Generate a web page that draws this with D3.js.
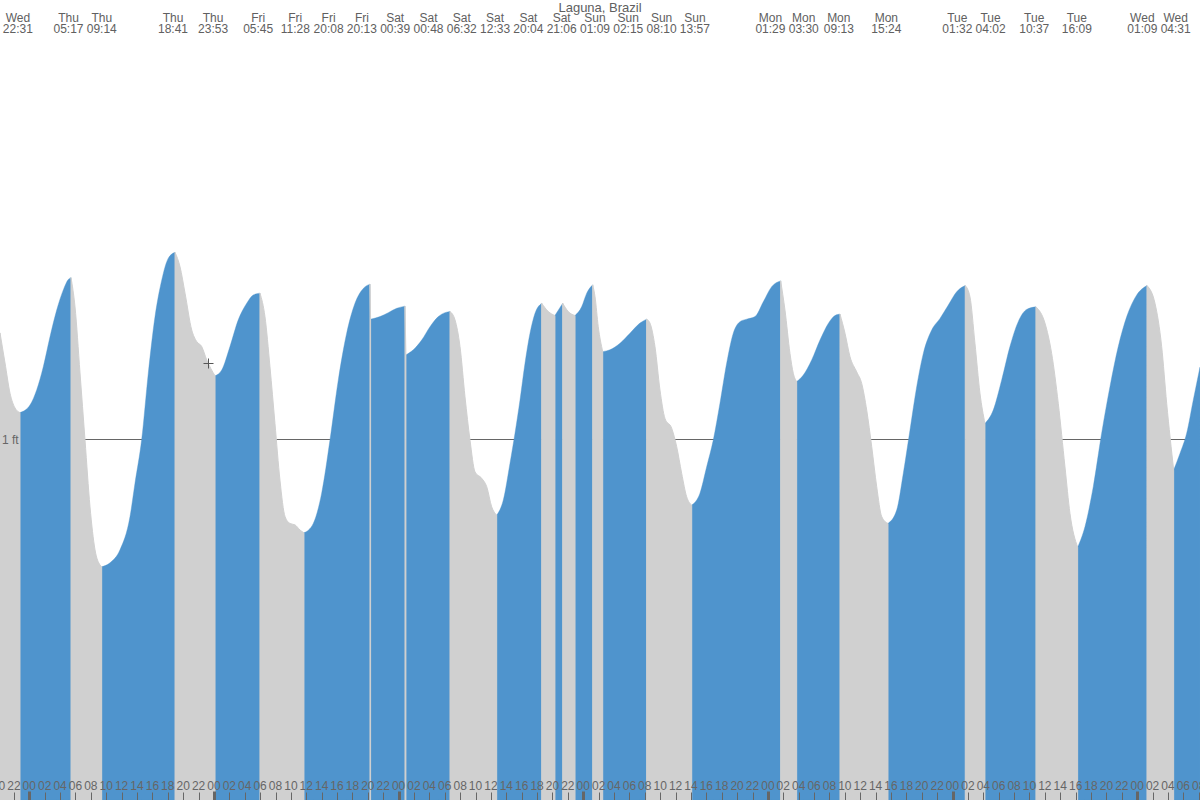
<!DOCTYPE html>
<html><head><meta charset="utf-8">
<script src="https://cdn.jsdelivr.net/npm/d3@7"></script>
<style>
body{margin:0;background:#fff}
svg{display:block;font-family:"Liberation Sans",Arial,Helvetica,sans-serif}
</style>
</head><body>
<svg id="chart" width="1200" height="800"></svg>
<script>
// ---------------- data ----------------
const chartTitle = "Laguna, Brazil";

// hours since Thu 00:00, tide height in feet
const tideHours = [-3.81,-3.16,-2.51,-1.86,-1.21,
 0.09,0.96,1.82,2.69,3.56,4.42,5.07,5.42,
 5.94,6.59,7.24,7.89,8.54,9.19,9.41,
 10.49,11.79,13.09,13.74,14.61,15.47,16.34,17.21,18.07,18.94,
 19.59,20.24,21.11,21.76,22.41,23.06,24.14,
 25.01,26.08,27.16,28.26,29.11,29.98,
 30.63,31.28,31.93,32.58,33.24,33.89,34.54,35.18,35.70,
 36.91,38.00,39.08,40.16,41.25,42.33,43.41,44.28,
 44.36,
 45.58,46.66,47.75,48.83,
 48.95,
 49.91,51.00,52.08,53.16,54.03,54.68,
 55.33,55.98,56.63,57.28,57.93,58.80,59.45,60.10,60.75,
 61.61,62.48,63.13,63.78,64.43,65.08,65.73,66.60,
 67.46,68.32,
 69.33,
 70.05,70.93,
 71.79,72.45,73.23,
 73.53,73.95,74.53,
 75.47,76.77,78.07,79.37,80.24,
 80.67,81.32,81.97,82.62,83.49,84.14,84.79,85.44,86.10,
 87.17,88.04,88.90,89.77,90.64,91.50,92.37,93.24,94.32,95.40,96.49,97.66,
 98.22,98.87,99.30,99.74,
 100.60,101.69,102.77,103.85,104.72,105.37,
 106.02,106.67,107.54,108.19,108.84,109.49,110.14,110.79,111.61,
 112.74,113.60,114.47,115.34,116.20,117.29,118.37,119.45,120.54,121.65,
 122.26,122.91,123.56,124.21,
 125.29,126.38,127.46,128.54,129.63,130.84,
 132.01,132.88,133.74,134.61,135.26,136.26,
 137.21,138.29,139.38,140.46,141.54,142.64,143.94,145.27,
 146.31,147.18,147.83,148.74,
 149.56,150.43,151.29,152.16];

const tideFeet = [1.294,1.211,1.127,1.086,1.073,
 1.094,1.136,1.200,1.283,1.357,1.413,1.442,1.447,
 1.366,1.183,0.997,0.812,0.693,0.651,0.646,
 0.657,0.693,0.785,0.878,0.999,1.183,1.339,1.440,1.501,1.517,
 1.477,1.404,1.302,1.270,1.256,1.219,1.175,
 1.191,1.256,1.330,1.376,1.399,1.404,
 1.339,1.200,1.043,0.886,0.785,0.766,0.762,0.748,0.740,
 0.766,0.850,0.997,1.163,1.293,1.376,1.417,1.429,
 1.332,
 1.339,1.350,1.362,1.368,
 1.233,
 1.247,1.274,1.311,1.339,1.350,1.353,
 1.330,1.256,1.117,0.997,0.909,0.891,0.868,0.812,0.789,
 0.831,0.933,1.016,1.108,1.210,1.293,1.348,1.376,
 1.353,1.342,
 1.376,
 1.353,1.342,
 1.366,1.404,1.427,
 1.394,1.311,1.242,
 1.247,1.265,1.293,1.321,1.332,
 1.321,1.256,1.136,1.057,1.030,0.979,0.905,0.840,0.817,
 0.850,0.923,0.997,1.099,1.210,1.293,1.325,1.332,1.339,1.380,1.422,1.438,
 1.357,1.237,1.182,1.159,
 1.177,1.219,1.274,1.320,1.342,1.346,
 1.293,1.228,1.186,1.154,1.080,0.979,0.868,0.785,0.766,
 0.803,0.905,1.025,1.145,1.237,1.302,1.334,1.371,1.408,1.425,
 1.394,1.265,1.127,1.043,
 1.080,1.163,1.256,1.325,1.359,1.366,
 1.321,1.237,1.099,0.923,0.794,0.700,
 0.757,0.868,1.016,1.145,1.256,1.339,1.399,1.425,
 1.376,1.256,1.099,0.914,
 0.960,1.016,1.108,1.199];

// high / low tide labels shown on top
const eventDays = ["Wed","Thu","Thu","Thu","Thu","Fri","Fri","Fri","Fri","Sat","Sat","Sat","Sat","Sat","Sat",
 "Sun","Sun","Sun","Sun","Mon","Mon","Mon","Mon","Tue","Tue","Tue","Tue","Wed","Wed"];
const eventTimes = ["22:31","05:17","09:14","18:41","23:53","05:45","11:28","20:08","20:13","00:39","00:48","06:32","12:33","20:04","21:06",
 "01:09","02:15","08:10","13:57","01:29","03:30","09:13","15:24","01:32","04:02","10:37","16:09","01:09","04:31"];

// reference line
const gridFeet = [1];
const gridLabels = ["1 ft"];

// hour ticks along the bottom (every 2 h)
const tickHours = d3.range(-4, 153, 2);
const tickLabels = tickHours.map(h => String(((h % 24) + 24) % 24).padStart(2, "0"));

// current time marker
const markerHour = 23.27, markerFeet = 1.211;

// ---------------- chart ----------------
const W = 1200, H = 800;
const svg = d3.select("#chart");
const blue = "#4f94cd", grey = "#d0d0d0", textCol = "#606060", axisCol = "#666";

const x = d3.scaleLinear().domain([0, 144]).range([29.3, 1137.2]);
const y = d3.scaleLinear().domain([0, 1]).range([H, 439]);

// grid line (behind areas)
svg.append("g").selectAll("line").data(gridFeet).join("line")
  .attr("x1", 0).attr("x2", W)
  .attr("y1", d => Math.round(y(d)) + 0.5).attr("y2", d => Math.round(y(d)) + 0.5)
  .attr("stroke", axisCol).attr("stroke-width", 1);

// split the curve into rising / falling bands at its turning points
const pts = tideHours.map((h, i) => [h, tideFeet[i]]);
const turns = [0];
for (let i = 1; i < pts.length - 1; i++) {
  const a = pts[i][1] - pts[i - 1][1], b = pts[i + 1][1] - pts[i][1];
  if (a * b < 0) turns.push(i);
}
turns.push(pts.length - 1);
const bands = [];
for (let k = 0; k < turns.length - 1; k++) {
  const seg = pts.slice(turns[k], turns[k + 1] + 1);
  bands.push({ seg, rising: seg[seg.length - 1][1] > seg[0][1] });
}

const area = d3.area()
  .x(d => x(d[0])).y0(H).y1(d => y(d[1]))
  .curve(d3.curveMonotoneX);

const gArea = svg.append("g");
gArea.selectAll("path.up").data(bands.filter(b => b.rising)).join("path")
  .attr("class", "up").attr("d", d => area(d.seg))
  .attr("fill", blue).attr("stroke", blue).attr("stroke-width", 0.4);
gArea.selectAll("path.down").data(bands.filter(b => !b.rising)).join("path")
  .attr("class", "down").attr("d", d => area(d.seg))
  .attr("fill", grey).attr("stroke", grey).attr("stroke-width", 1);

// grid label
svg.append("g").selectAll("text").data(gridFeet).join("text")
  .attr("x", 2).attr("y", d => y(d) + 4.5)
  .attr("font-size", 12).attr("fill", axisCol)
  .text((d, i) => gridLabels[i]);

// bottom ticks
const gTicks = svg.append("g");
gTicks.selectAll("line").data(tickHours).join("line")
  .attr("x1", d => Math.round(x(d)) + 0.5).attr("x2", d => Math.round(x(d)) + 0.5)
  .attr("y1", d => d % 24 === 0 ? 791.5 : 792.5).attr("y2", H)
  .attr("stroke", axisCol)
  .attr("stroke-width", d => d % 24 === 0 ? 3 : 1);
gTicks.selectAll("text").data(tickHours).join("text")
  .attr("x", d => x(d)).attr("y", 790)
  .attr("text-anchor", "middle").attr("font-size", 12).attr("fill", axisCol)
  .text((d, i) => tickLabels[i]);

// marker
const mx = Math.round(x(markerHour)) + 0.5, my = Math.round(y(markerFeet)) + 0.5;
svg.append("path")
  .attr("d", `M${mx - 5},${my}H${mx + 5}M${mx},${my - 5}V${my + 5}`)
  .attr("stroke", "#555").attr("stroke-width", 1).attr("fill", "none");

// top labels: hours from day names + times, spread apart to avoid overlap
let dayNum = -1, prevDay = eventDays[0];
const evHours = eventDays.map((d, i) => {
  if (d !== prevDay) { dayNum++; prevDay = d; }
  const [hh, mm] = eventTimes[i].split(":").map(Number);
  return dayNum * 24 + hh + mm / 60;
});
const evX = evHours.map(h => x(h));
const gap = 33.3;
let clusters = evX.map((v, i) => ({ idx: [i], c: v }));
let changed = true;
while (changed) {
  changed = false;
  for (let i = 0; i < clusters.length - 1; i++) {
    const a = clusters[i], b = clusters[i + 1];
    const aEnd = a.c + (a.idx.length - 1) / 2 * gap;
    const bStart = b.c - (b.idx.length - 1) / 2 * gap;
    if (bStart - aEnd < gap) {
      const idx = a.idx.concat(b.idx);
      clusters.splice(i, 2, { idx, c: d3.mean(idx, j => evX[j]) });
      changed = true; break;
    }
  }
}
const labelX = new Array(evX.length);
clusters.forEach(c => c.idx.forEach((j, k) => {
  labelX[j] = c.c + (k - (c.idx.length - 1) / 2) * gap;
}));

const gTop = svg.append("g").attr("font-size", 12).attr("fill", textCol).attr("text-anchor", "middle");
gTop.selectAll("text.day").data(eventDays).join("text")
  .attr("class", "day").attr("x", (d, i) => labelX[i]).attr("y", 22).text(d => d);
gTop.selectAll("text.time").data(eventTimes).join("text")
  .attr("class", "time").attr("x", (d, i) => labelX[i]).attr("y", 33).text(d => d);

svg.append("text")
  .attr("x", W / 2).attr("y", 11.5).attr("text-anchor", "middle")
  .attr("font-size", 13).attr("fill", textCol).text(chartTitle);
</script>
</body></html>
